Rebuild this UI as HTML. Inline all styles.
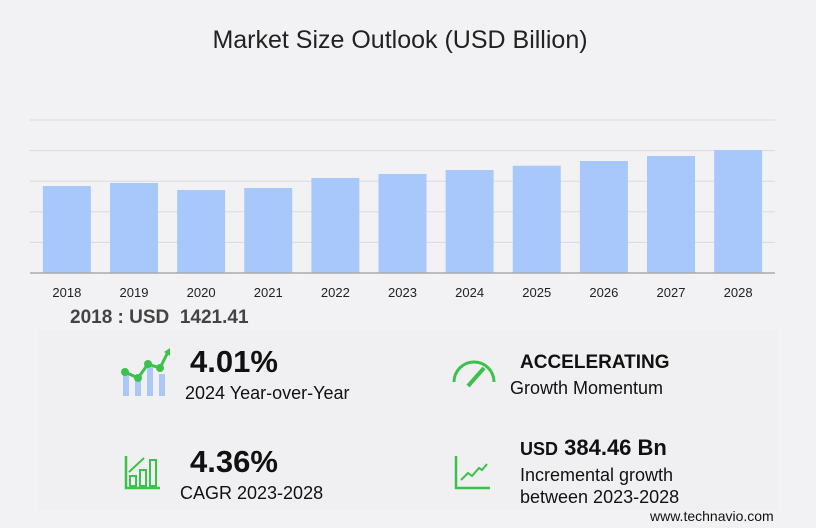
<!DOCTYPE html>
<html><head><meta charset="utf-8"><style>
body{margin:0;background:#f2f2f4;font-family:"Liberation Sans",sans-serif;}
#wrap{position:relative;width:816px;height:528px;overflow:hidden;background:#f2f2f4;}
.t{position:absolute;white-space:nowrap;color:#111;}
</style></head><body>
<div id="wrap">
<div class="t" style="left:0;width:800px;text-align:center;top:26px;font-size:25px;color:#222;">Market Size Outlook (USD Billion)</div>
<svg id="chart" width="816" height="310" style="position:absolute;left:0;top:0"></svg>
<div class="t" style="left:70px;top:307px;font-size:19px;font-weight:bold;color:#444;">2018 : USD&nbsp; 1421.41</div>
<div style="position:absolute;left:38px;top:330px;width:740px;height:180px;background:#f0f0f2;"></div>

<svg width="60" height="60" style="position:absolute;left:118px;top:348px">
<rect x="5" y="24" width="6" height="24" fill="#a9c8f5"/><rect x="17" y="32" width="6" height="16" fill="#a9c8f5"/><rect x="29" y="18" width="6" height="30" fill="#a9c8f5"/><rect x="41" y="26" width="6" height="22" fill="#a9c8f5"/>
<polyline points="7,24 20,30 30,16 42,20 50,4" fill="none" stroke="#3cc24a" stroke-width="3"/>
<circle cx="7" cy="24" r="4" fill="#3cc24a"/><circle cx="20" cy="30" r="4" fill="#3cc24a"/><circle cx="30" cy="16" r="4" fill="#3cc24a"/><circle cx="42" cy="20" r="4" fill="#3cc24a"/><polygon points="46,4 52,0 52,8" fill="#3cc24a"/></svg>
<div class="t" style="left:190px;top:344px;font-size:31px;font-weight:bold;">4.01%</div>
<div class="t" style="left:185px;top:383px;font-size:18px;">2024 Year-over-Year</div>

<svg width="50" height="40" style="position:absolute;left:450px;top:358px">
<path d="M4,24 A20,20 0 0 1 44,24" fill="none" stroke="#3cc24a" stroke-width="3"/>
<line x1="18" y1="28" x2="34" y2="10" stroke="#3cc24a" stroke-width="4"/></svg>
<div class="t" style="left:520px;top:352px;font-size:19px;font-weight:bold;">ACCELERATING</div>
<div class="t" style="left:510px;top:378px;font-size:18px;">Growth Momentum</div>

<svg width="40" height="40" style="position:absolute;left:124px;top:454px">
<path d="M2,2 V34 H36" fill="none" stroke="#3cc24a" stroke-width="2.5"/>
<rect x="6" y="22" width="6" height="10" fill="none" stroke="#3cc24a" stroke-width="2"/><rect x="16" y="16" width="6" height="16" fill="none" stroke="#3cc24a" stroke-width="2"/><rect x="26" y="6" width="6" height="26" fill="none" stroke="#3cc24a" stroke-width="2"/>
<line x1="5" y1="18" x2="20" y2="4" stroke="#3cc24a" stroke-width="2"/></svg>
<div class="t" style="left:190px;top:444px;font-size:31px;font-weight:bold;">4.36%</div>
<div class="t" style="left:180px;top:483px;font-size:18px;">CAGR 2023-2028</div>

<svg width="40" height="40" style="position:absolute;left:454px;top:454px">
<path d="M2,2 V34 H36" fill="none" stroke="#3cc24a" stroke-width="2.5"/>
<polyline points="7,26 14,19 18,22 25,14 28,16 33,10" fill="none" stroke="#3cc24a" stroke-width="2"/></svg>
<div class="t" style="left:520px;top:435px;font-size:22px;font-weight:bold;"><span style="font-size:18px">USD</span> 384.46 Bn</div>
<div class="t" style="left:520px;top:464px;font-size:18px;line-height:22px;">Incremental growth<br>between 2023-2028</div>
<div class="t" style="left:650px;top:508px;font-size:14px;">www.technavio.com</div>
</div>
<script>
const years=["2018","2019","2020","2021","2022","2023","2024","2025","2026","2027","2028"];
const values=[1421,1471,1356,1389,1552,1618,1683,1753,1830,1912,2010];
const ticks=[0,500,1000,1500,2000,2500];
const NS="http://www.w3.org/2000/svg";
const svg=document.getElementById('chart');
const x0=30,x1=775,yBase=273,yTop=120,vMax=2500;
const y=v=>yBase-(v/vMax)*(yBase-yTop);
const step=(x1-x0)/years.length;
const xc=i=>x0+step*(i+0.5)+(i-5)*-0.6;
function mk(t,a){const e=document.createElementNS(NS,t);for(const k in a)e.setAttribute(k,a[k]);svg.appendChild(e);return e;}
ticks.forEach(t=>{if(t===0)return;const l=mk('line',{x1:x0,x2:x1,y1:y(t),y2:y(t),stroke:'#d9d9dd','stroke-width':1});

});
values.forEach((v,i)=>{const r=mk('rect',{x:xc(i)-24,y:y(v),width:48,height:yBase-y(v),fill:'#a8c8fc'});


const tx=mk('text',{x:xc(i),y:297,'text-anchor':'middle','font-size':13,fill:'#222','font-family':'Liberation Sans, sans-serif'});tx.textContent=years[i];

});
const ax=mk('line',{x1:x0,x2:x1,y1:yBase,y2:yBase,stroke:'#aaa','stroke-width':1.5});


</script>
</body></html>
